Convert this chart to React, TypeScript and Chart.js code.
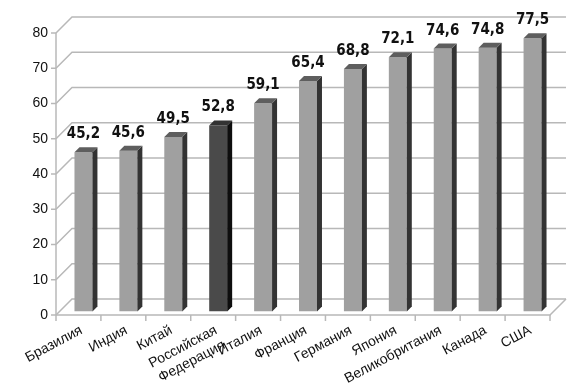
import React, { useEffect, useRef } from "react";
import { Chart, registerables } from "chart.js";

Chart.register(...registerables);

const categories: (string | string[])[] = [
  "Бразилия",
  "Индия",
  "Китай",
  ["Российская", "Федерация"],
  "Италия",
  "Франция",
  "Германия",
  "Япония",
  "Великобритания",
  "Канада",
  "США",
];
const values: number[] = [45.2, 45.6, 49.5, 52.8, 59.1, 65.4, 68.8, 72.1, 74.6, 74.8, 77.5];
const highlighted: boolean[] = [false, false, false, true, false, false, false, false, false, false, false];
const yTicks: number[] = [0, 10, 20, 30, 40, 50, 60, 70, 80];

const FRONT = "#a0a0a0";
const SIDE = "#333333";
const TOP = "#5e5e5e";
const FRONT_H = "#4a4a4a";
const SIDE_H = "#0e0e0e";
const TOP_H = "#333333";
const GRID = "#b8b8b8";

const DEPTH = 16; // back wall offset
const BAR_DX = 5; // bar plane offset
const BAR_DY = -3.5;
const BAR_D = 5; // bar depth

const threeD = {
  id: "threeD",
  beforeDatasetsDraw(chart: any) {
    const ctx = chart.ctx;
    const { left, right, bottom } = chart.chartArea;
    const ys = chart.scales.y;
    ctx.save();
    ctx.strokeStyle = GRID;
    ctx.lineWidth = 1.5;
    yTicks.forEach((v) => {
      const y = ys.getPixelForValue(v);
      ctx.beginPath();
      ctx.moveTo(left, y);
      ctx.lineTo(left + DEPTH, y - DEPTH);
      ctx.lineTo(right + DEPTH, y - DEPTH);
      ctx.stroke();
      ctx.beginPath();
      ctx.moveTo(left - 5, y);
      ctx.lineTo(left, y);
      ctx.stroke();
    });
    ctx.beginPath();
    ctx.moveTo(left, bottom);
    ctx.lineTo(right, bottom);
    ctx.lineTo(right + DEPTH, bottom - DEPTH);
    ctx.stroke();
    ctx.beginPath();
    ctx.moveTo(left, ys.getPixelForValue(80));
    ctx.lineTo(left, bottom);
    ctx.stroke();
    const n = categories.length;
    const step = (right - left) / n;
    for (let i = 0; i <= n; i++) {
      const x = left + i * step;
      ctx.beginPath();
      ctx.moveTo(x, bottom);
      ctx.lineTo(x, bottom + 6);
      ctx.stroke();
    }
    ctx.restore();
    ctx.save();
    ctx.translate(BAR_DX, BAR_DY);
  },
  afterDatasetsDraw(chart: any) {
    const ctx = chart.ctx;
    const meta = chart.getDatasetMeta(0);
    meta.data.forEach((bar: any, i: number) => {
      const { x, y, base, width } = bar.getProps(["x", "y", "base", "width"], true);
      const l = x - width / 2;
      const r = x + width / 2;
      const hi = highlighted[i];
      ctx.fillStyle = hi ? SIDE_H : SIDE;
      ctx.beginPath();
      ctx.moveTo(r, y);
      ctx.lineTo(r + BAR_D, y - BAR_D);
      ctx.lineTo(r + BAR_D, base - BAR_D);
      ctx.lineTo(r, base);
      ctx.closePath();
      ctx.fill();
      ctx.fillStyle = hi ? TOP_H : TOP;
      ctx.beginPath();
      ctx.moveTo(l, y);
      ctx.lineTo(l + BAR_D, y - BAR_D);
      ctx.lineTo(r + BAR_D, y - BAR_D);
      ctx.lineTo(r, y);
      ctx.closePath();
      ctx.fill();
      ctx.fillStyle = "#111";
      ctx.font = "bold 15px 'Liberation Sans Narrow', 'DejaVu Sans Condensed', sans-serif";
      ctx.textAlign = "center";
      ctx.textBaseline = "alphabetic";
      ctx.fillText(values[i].toFixed(1).replace(".", ","), x, y - 14);
    });
    ctx.restore();
  },
};

export default function App() {
  const ref = useRef<HTMLCanvasElement | null>(null);
  useEffect(() => {
    if (!ref.current) return;
    const chart = new Chart(ref.current, {
      type: "bar",
      data: {
        labels: categories,
        datasets: [
          {
            data: values,
            backgroundColor: highlighted.map((h) => (h ? FRONT_H : FRONT)),
            borderWidth: 0,
            categoryPercentage: 1,
            barPercentage: 0.4,
          },
        ],
      },
      options: {
        responsive: true,
        maintainAspectRatio: false,
        animation: false,
        layout: { padding: { top: 33, right: 30, bottom: 0, left: 0 } },
        plugins: { legend: { display: false }, tooltip: { enabled: false } },
        scales: {
          x: {
            grid: { display: false, drawTicks: false },
            border: { display: false },
            ticks: {
              autoSkip: false,
              minRotation: 28,
              maxRotation: 28,
              padding: 7,
              labelOffset: 3,
              color: "#111",
              font: { family: "'Liberation Sans', Arial, sans-serif", size: 14 },
            },
            afterFit: (s: any) => {
              s.height = 70;
            },
          },
          y: {
            min: 0,
            max: 80,
            grid: { display: false, drawTicks: false },
            border: { display: false },
            ticks: {
              stepSize: 10,
              padding: 8,
              color: "#111",
              font: { family: "'Liberation Sans', Arial, sans-serif", size: 14 },
            },
            afterFit: (s: any) => {
              s.width = 56;
            },
          },
        },
      },
      plugins: [threeD],
    });
    return () => chart.destroy();
  }, []);
  return (
    <div style={{ position: "fixed", left: 0, top: 0, width: 580, height: 385, background: "#fff" }}>
      <canvas ref={ref} />
    </div>
  );
}
